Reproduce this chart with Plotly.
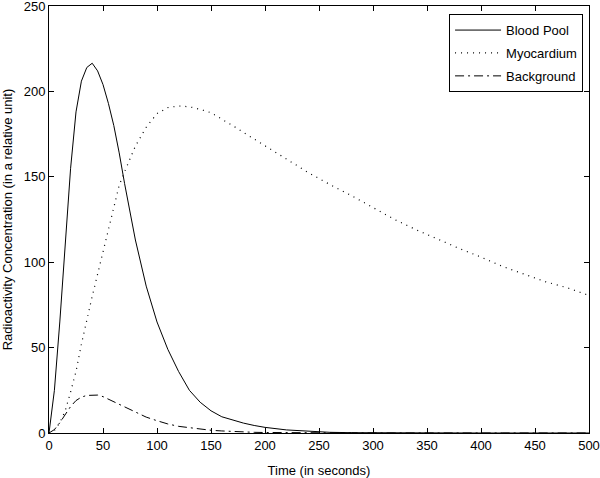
import plotly.graph_objects as go

time_s = [0, 5, 10, 15, 20, 25, 30, 35, 40, 45, 50, 55, 60, 65, 70, 80, 90, 100, 110, 120,
          130, 140, 150, 160, 170, 180, 190, 200, 220, 240, 260, 280, 300, 320, 340, 360,
          380, 400, 420, 440, 460, 480, 500]
blood_pool = [0, 25, 65, 110, 155, 188, 206, 214, 216.5, 212, 204, 193, 180, 164, 146, 113,
              86, 65, 49, 36, 25, 18, 13, 9.5, 7.5, 5.8, 4.4, 3.3, 1.8, 0.9, 0.4, 0.2, 0.1,
              0, 0, 0, 0, 0, 0, 0, 0, 0, 0]
myocardium = [0, 1.5, 6, 13, 24, 36, 52, 67, 80, 93, 106, 120, 133, 145, 153, 168, 179, 187,
              190.5, 191.5, 191, 189.5, 187.5, 184, 180, 176, 172, 168, 160, 152.5, 145.5,
              139, 132, 125, 119, 113.5, 108, 103, 97.5, 93, 88.5, 85, 80.5]
background = [0, 2, 6, 11, 15.5, 19, 21, 22, 22.3, 22.2, 21.3, 19.8, 18.3, 16.7, 15, 12, 9.3,
              7.2, 5.3, 3.9, 3, 2.2, 1.6, 1.2, 0.8, 0.6, 0.4, 0.3, 0.15, 0.1, 0, 0, 0, 0, 0,
              0, 0, 0, 0, 0, 0, 0, 0]

x_ticks = [0, 50, 100, 150, 200, 250, 300, 350, 400, 450, 500]
y_ticks = [0, 50, 100, 150, 200, 250]

font_family = "Liberation Sans, Arial, sans-serif"

fig = go.Figure()
fig.add_trace(go.Scatter(x=time_s, y=blood_pool, mode="lines", name="Blood Pool",
                         legendgroup="a",
                         line=dict(color="black", width=1, dash="solid")))
fig.add_trace(go.Scatter(x=time_s, y=myocardium, mode="lines", name="Myocardium",
                         legendgroup="b",
                         line=dict(color="black", width=1.2, dash="1px,5px")))
fig.add_trace(go.Scatter(x=time_s, y=background, mode="lines", name="Background",
                         legendgroup="c",
                         line=dict(color="black", width=1, dash="9px,4px,2px,4px")))

axis_common = dict(showgrid=False, zeroline=False, showline=True, linecolor="black",
                   linewidth=1, mirror="ticks", ticks="inside", ticklen=5, tickcolor="black",
                   automargin=False, ticklabeloverflow="allow",
                   tickfont=dict(family=font_family, size=13, color="black"))

fig.update_layout(
    width=600, height=478,
    paper_bgcolor="white", plot_bgcolor="white",
    margin=dict(l=49, r=11, t=6, b=45),
    font=dict(family=font_family, size=13, color="black"),
    xaxis=dict(range=[0, 500], tickvals=x_ticks, ticktext=[str(v) for v in x_ticks],
               title=dict(text="Time (in seconds)", font=dict(size=13)),
               **axis_common),
    yaxis=dict(range=[0, 250], tickvals=y_ticks, ticktext=[str(v) for v in y_ticks],
               title=dict(text="Radioactivity Concentration (in a relative unit)",
                          font=dict(size=13)),
               **axis_common),
    legend=dict(x=0.989, y=0.981, xanchor="right", yanchor="top",
                bordercolor="black", borderwidth=1, bgcolor="white",
                font=dict(family=font_family, size=13, color="black"),
                tracegroupgap=3, itemwidth=46),
    showlegend=True,
)

fig.write_html("out.html", config={"displayModeBar": False},
               post_script="document.body.style.margin='0';document.body.style.padding='0';")
